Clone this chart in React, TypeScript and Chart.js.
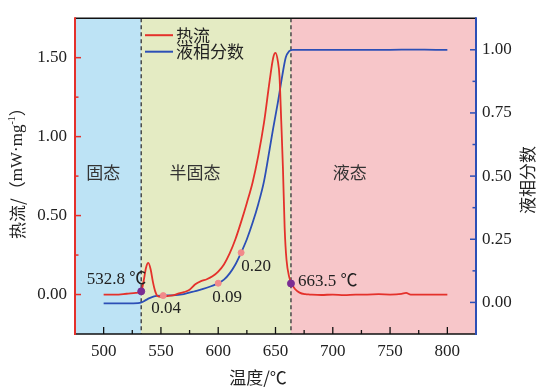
import React, { useEffect, useRef } from "react";
import { Chart, registerables } from "chart.js";
Chart.register(...registerables);

// ---- data ----
const heatTemps = [500, 510, 520, 528, 532.8, 535, 537, 539, 541, 543, 545, 547, 550, 555, 560, 565, 570, 575, 580, 585, 590, 595, 600, 605, 610, 615, 620, 625, 630, 635, 640, 645, 648, 650, 652, 653.5, 655, 656.5, 658, 659.6, 662, 664, 667, 671, 676, 680, 690, 700, 710, 720, 730, 740, 750, 760, 764, 768, 780, 790, 800];
const heatFlow = [0.0, 0.0, 0.005, 0.01, 0.02, 0.09, 0.17, 0.2, 0.16, 0.08, 0.02, -0.01, -0.015, -0.01, -0.005, 0.005, 0.015, 0.03, 0.065, 0.085, 0.097, 0.115, 0.145, 0.19, 0.26, 0.35, 0.46, 0.58, 0.71, 0.88, 1.09, 1.36, 1.5, 1.53, 1.48, 1.38, 1.1, 0.8, 0.42, 0.22, 0.11, 0.07, 0.035, 0.012, 0.002, 0.0, -0.003, 0.0, -0.004, 0.0, 0.0, 0.002, 0.0, 0.004, 0.01, 0.0, 0.0, 0.0, 0.0];

const fracTemps = [500, 510, 520, 530, 533, 536, 540, 544, 550, 560, 570, 580, 590, 600, 605, 610, 615, 620, 625, 630, 635, 640, 645, 648, 652, 656, 659, 662, 665, 680, 700, 750, 770, 790, 800];
const liquidFraction = [-0.004, -0.004, -0.004, -0.003, 0.0, 0.007, 0.017, 0.024, 0.027, 0.028, 0.033, 0.045, 0.058, 0.076, 0.09, 0.115, 0.15, 0.197, 0.25, 0.315, 0.39, 0.48, 0.61, 0.69, 0.79, 0.9, 0.97, 0.995, 1.0, 1.0, 1.0, 1.0, 1.001, 1.0, 1.0];

const solidusTemp = 532.8;
const liquidusTemp = 663.5;
const transitionTemps = [532.8, 663.5];
const transitionHeat = [0.02, 0.07];
const transitionLabels = ["532.8 \u2103", "663.5 \u2103"];

const fracMarkTemps = [552, 600, 620];
const fracMarkValues = [0.027, 0.076, 0.197];
const fracMarkLabels = ["0.04", "0.09", "0.20"];

const regionLabels = ["固态", "半固态", "液态"];
const regionTemps = [499.6, 579.7, 714.7];
const regionLevel = 0.77;

const xTickValues = [500, 550, 600, 650, 700, 750, 800];
const xMinorTicks = [525, 575, 625, 675, 725, 775];
const leftTickValues = [0, 0.5, 1.0, 1.5];
const leftMinorTicks = [0.25, 0.75, 1.25];
const rightTickValues = [0, 0.25, 0.5, 0.75, 1.0];
const rightMinorTicks = [0.125, 0.375, 0.625, 0.875];

const seriesNames = ["热流", "液相分数"];
const xTitle = "温度/\u2103";
const rightTitle = "液相分数";

// ---- style ----
const RED = "#e4312b";
const BLUE = "#2c4fb6";
const PURPLE = "#7a2c93";
const PINK = "#f28a8a";
const BG_SOLID = "#bde3f5";
const BG_MUSHY = "#e4ebc3";
const BG_LIQUID = "#f7c6c9";
const TEXT = "#222222";
const SERIF = '"Liberation Serif", "Noto Sans CJK SC", serif';
const CJK = '"Noto Sans CJK SC", "Liberation Serif", sans-serif';

const decorPlugin = {
  id: "decor",
  beforeDatasetsDraw(chart: any) {
    const { ctx, chartArea: a, scales } = chart;
    const x = scales.x;
    const y = scales.y;
    const xs = x.getPixelForValue(solidusTemp);
    const xl = x.getPixelForValue(liquidusTemp);
    ctx.save();
    ctx.fillStyle = BG_SOLID;
    ctx.fillRect(a.left, a.top, xs - a.left, a.bottom - a.top);
    ctx.fillStyle = BG_MUSHY;
    ctx.fillRect(xs, a.top, xl - xs, a.bottom - a.top);
    ctx.fillStyle = BG_LIQUID;
    ctx.fillRect(xl, a.top, a.right - xl, a.bottom - a.top);

    // region labels
    ctx.fillStyle = "#333333";
    ctx.font = `17px ${CJK}`;
    ctx.textAlign = "center";
    ctx.textBaseline = "middle";
    regionLabels.forEach((t, i) => {
      ctx.fillText(t, x.getPixelForValue(regionTemps[i]), y.getPixelForValue(regionLevel));
    });

    // dashed lines
    ctx.strokeStyle = "#4a4a4a";
    ctx.lineWidth = 1.5;
    ctx.setLineDash([4, 3]);
    [xs, xl].forEach((px) => {
      ctx.beginPath();
      ctx.moveTo(px, a.top);
      ctx.lineTo(px, a.bottom);
      ctx.stroke();
    });
    ctx.setLineDash([]);
    ctx.restore();
  },
  afterDatasetsDraw(chart: any) {
    const { ctx, chartArea: a, scales } = chart;
    const x = scales.x;
    const y = scales.y;
    const y1 = scales.y1;
    ctx.save();

    // annotations
    ctx.fillStyle = TEXT;
    ctx.font = `17px ${SERIF}`;
    ctx.textBaseline = "middle";
    {
      const px = x.getPixelForValue(transitionTemps[0]);
      const py = y.getPixelForValue(transitionHeat[0]);
      ctx.textAlign = "right";
      ctx.fillText(transitionLabels[0], px + 5, py - 12);
      const px2 = x.getPixelForValue(transitionTemps[1]);
      const py2 = y.getPixelForValue(transitionHeat[1]);
      ctx.textAlign = "left";
      ctx.fillText(transitionLabels[1], px2 + 7, py2 - 2);
    }
    const fracOffsets = [
      [-12, 13],
      [-6, 14],
      [0, 14],
    ];
    ctx.textAlign = "left";
    fracMarkLabels.forEach((t, i) => {
      const px = x.getPixelForValue(fracMarkTemps[i]);
      const py = y1.getPixelForValue(fracMarkValues[i]);
      ctx.fillText(t, px + fracOffsets[i][0], py + fracOffsets[i][1]);
    });

    // legend
    const lx = a.left + 70;
    const ly = a.top + 17;
    const colors = [RED, BLUE];
    ctx.lineWidth = 2;
    ctx.font = `17px ${CJK}`;
    seriesNames.forEach((n, i) => {
      const yy = ly + i * 16.5;
      ctx.strokeStyle = colors[i];
      ctx.beginPath();
      ctx.moveTo(lx, yy);
      ctx.lineTo(lx + 28, yy);
      ctx.stroke();
      ctx.fillStyle = TEXT;
      ctx.fillText(n, lx + 31, yy);
    });

    // frame
    ctx.lineWidth = 1.6;
    ctx.strokeStyle = "#111111";
    ctx.beginPath();
    ctx.moveTo(a.left, a.top);
    ctx.lineTo(a.right, a.top);
    ctx.moveTo(a.left, a.bottom);
    ctx.lineTo(a.right, a.bottom);
    ctx.stroke();
    // x ticks
    ctx.lineWidth = 1.3;
    xTickValues.forEach((v) => {
      const px = x.getPixelForValue(v);
      ctx.beginPath();
      ctx.moveTo(px, a.bottom);
      ctx.lineTo(px, a.bottom - 7);
      ctx.stroke();
    });
    xMinorTicks.forEach((v) => {
      const px = x.getPixelForValue(v);
      ctx.beginPath();
      ctx.moveTo(px, a.bottom);
      ctx.lineTo(px, a.bottom - 4);
      ctx.stroke();
    });
    // left axis
    ctx.strokeStyle = RED;
    ctx.lineWidth = 2;
    ctx.beginPath();
    ctx.moveTo(a.left, a.top - 1);
    ctx.lineTo(a.left, a.bottom + 1);
    ctx.stroke();
    ctx.lineWidth = 1.5;
    leftTickValues.forEach((v) => {
      const py = y.getPixelForValue(v);
      ctx.beginPath();
      ctx.moveTo(a.left, py);
      ctx.lineTo(a.left + 6, py);
      ctx.stroke();
    });
    leftMinorTicks.forEach((v) => {
      const py = y.getPixelForValue(v);
      ctx.beginPath();
      ctx.moveTo(a.left, py);
      ctx.lineTo(a.left + 3.5, py);
      ctx.stroke();
    });
    // right axis
    ctx.strokeStyle = BLUE;
    ctx.lineWidth = 2;
    ctx.beginPath();
    ctx.moveTo(a.right, a.top - 1);
    ctx.lineTo(a.right, a.bottom + 1);
    ctx.stroke();
    ctx.lineWidth = 1.5;
    rightTickValues.forEach((v) => {
      const py = y1.getPixelForValue(v);
      ctx.beginPath();
      ctx.moveTo(a.right, py);
      ctx.lineTo(a.right - 6, py);
      ctx.stroke();
    });
    rightMinorTicks.forEach((v) => {
      const py = y1.getPixelForValue(v);
      ctx.beginPath();
      ctx.moveTo(a.right, py);
      ctx.lineTo(a.right - 3.5, py);
      ctx.stroke();
    });

    // titles
    ctx.fillStyle = TEXT;
    ctx.textBaseline = "middle";
    ctx.font = `17px ${CJK}`;
    ctx.textAlign = "center";
    ctx.fillText(xTitle, a.left + 183, a.bottom + 44);

    // right title
    ctx.save();
    ctx.translate(528, (a.top + a.bottom) / 2 + 4);
    ctx.rotate(-Math.PI / 2);
    ctx.fillText(rightTitle, 0, 0);
    ctx.restore();

    // left title with superscript
    const parts = [
      { t: "热流/", f: `17px ${CJK}`, dy: 0 },
      { t: "（", f: `17px ${CJK}`, dy: 0 },
      { t: "mW·mg", f: `17px ${SERIF}`, dy: 0 },
      { t: "-1", f: `10px ${SERIF}`, dy: -6 },
      { t: "）", f: `17px ${CJK}`, dy: 0 },
    ];
    let total = 0;
    const widths = parts.map((p) => {
      ctx.font = p.f;
      const w = ctx.measureText(p.t).width;
      total += w;
      return w;
    });
    ctx.save();
    ctx.translate(18, (a.top + a.bottom) / 2 - 7);
    ctx.rotate(-Math.PI / 2);
    ctx.textAlign = "left";
    let cx = -total / 2;
    parts.forEach((p, i) => {
      ctx.font = p.f;
      ctx.fillText(p.t, cx, p.dy);
      cx += widths[i];
    });
    ctx.restore();

    ctx.restore();
  },
};

export default function App() {
  const ref = useRef<HTMLCanvasElement>(null);
  useEffect(() => {
    if (!ref.current) return;
    const chart = new Chart(ref.current, {
      type: "line",
      data: {
        datasets: [
          {
            label: seriesNames[0],
            data: heatTemps.map((t, i) => ({ x: t, y: heatFlow[i] })),
            borderColor: RED,
            borderWidth: 1.8,
            pointRadius: 0,
            cubicInterpolationMode: "monotone",
            yAxisID: "y",
            order: 2,
          },
          {
            label: seriesNames[1],
            data: fracTemps.map((t, i) => ({ x: t, y: liquidFraction[i] })),
            borderColor: BLUE,
            borderWidth: 1.8,
            pointRadius: 0,
            cubicInterpolationMode: "monotone",
            yAxisID: "y1",
            order: 3,
          },
          {
            label: "transition",
            data: transitionTemps.map((t, i) => ({ x: t, y: transitionHeat[i] })),
            showLine: false,
            pointRadius: 3.5,
            pointBackgroundColor: PURPLE,
            pointBorderColor: PURPLE,
            yAxisID: "y",
            order: 0,
          },
          {
            label: "marks",
            data: fracMarkTemps.map((t, i) => ({ x: t, y: fracMarkValues[i] })),
            showLine: false,
            pointRadius: 3,
            pointBackgroundColor: PINK,
            pointBorderColor: PINK,
            yAxisID: "y1",
            order: 1,
          },
        ],
      },
      options: {
        animation: false,
        responsive: false,
        maintainAspectRatio: false,
        layout: { padding: { top: 11, left: 0, right: 0, bottom: 0 } },
        plugins: { legend: { display: false }, tooltip: { enabled: false } },
        scales: {
          x: {
            type: "linear",
            min: 475,
            max: 825,
            position: "bottom",
            grid: { display: false, drawTicks: false },
            border: { display: false },
            afterBuildTicks: (s: any) => {
              s.ticks = xTickValues.map((v) => ({ value: v }));
            },
            afterFit: (s: any) => {
              s.height = 56;
            },
            ticks: {
              color: TEXT,
              font: { family: SERIF, size: 17 },
              padding: 7,
              maxRotation: 0,
              autoSkip: false,
              callback: (v: any) => String(v),
            },
          },
          y: {
            type: "linear",
            min: -0.25,
            max: 1.75,
            position: "left",
            grid: { display: false, drawTicks: false },
            border: { display: false },
            afterBuildTicks: (s: any) => {
              s.ticks = leftTickValues.map((v) => ({ value: v }));
            },
            afterFit: (s: any) => {
              s.width = 75;
            },
            ticks: {
              color: TEXT,
              font: { family: SERIF, size: 17 },
              padding: 8,
              callback: (v: any) => Number(v).toFixed(2),
            },
          },
          y1: {
            type: "linear",
            min: -0.125,
            max: 1.125,
            position: "right",
            grid: { display: false, drawTicks: false },
            border: { display: false },
            afterBuildTicks: (s: any) => {
              s.ticks = rightTickValues.map((v) => ({ value: v }));
            },
            afterFit: (s: any) => {
              s.width = 65;
            },
            ticks: {
              color: TEXT,
              font: { family: SERIF, size: 17 },
              padding: 6,
              callback: (v: any) => Number(v).toFixed(2),
            },
          },
        },
      },
      plugins: [decorPlugin],
    } as any);
    return () => chart.destroy();
  }, []);

  return (
    <div style={{ position: "fixed", left: 0, top: 0, width: 541, height: 390, background: "#ffffff" }}>
      <canvas ref={ref} width={541} height={390} style={{ width: 541, height: 390, display: "block" }} />
    </div>
  );
}
